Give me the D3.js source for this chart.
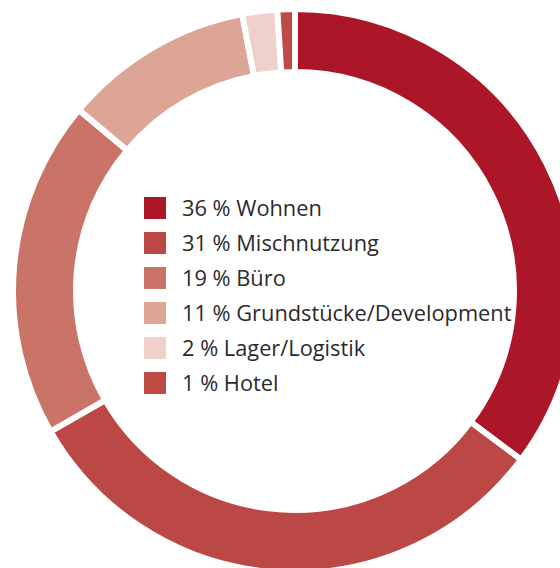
<!DOCTYPE html>
<html>
<head>
<meta charset="utf-8">
<script src="https://cdn.jsdelivr.net/npm/d3@7"></script>
<style>
  body { margin: 0; background: #fff; overflow: hidden; }
  .legend-label { font-family: "Open Sans", sans-serif; font-size: 21.8px; fill: #2b2b2b; }
</style>
</head>
<body>
<div id="chart"></div>
<script>
// Portfolio split by use type
const categories = ['Wohnen', 'Mischnutzung', 'Büro', 'Grundstücke/Development', 'Lager/Logistik', 'Hotel'];
// rounded shares as printed in the legend
const shareLabels = [36, 31, 19, 11, 2, 1];
// slice sizes (unrounded)
const sliceShares = [35.2, 31.5, 19.4, 10.9, 2.0, 1.0];
const colors = ['#ab1628', '#bb4844', '#c97467', '#dca596', '#f0d0cb', '#bd4a45'];

const width = 560, height = 568;
const cx = 295, cy = 291;
// white stroke eats 3px on each edge, so the path is drawn a bit wider
const outerR = 282, innerR = 219;

const svg = d3.select('#chart').append('svg')
    .attr('width', width)
    .attr('height', height);

const data = categories.map((c, i) => ({
    name: c, value: sliceShares[i], label: shareLabels[i], color: colors[i]
}));

const pie = d3.pie().value(d => d.value).sort(null);
const arc = d3.arc().innerRadius(innerR).outerRadius(outerR);

const ring = svg.append('g')
    .attr('transform', `translate(${cx},${cy})`);

ring.selectAll('.slice')
    .data(pie(data))
    .join('path')
    .attr('class', 'slice')
    .attr('d', arc)
    .attr('fill', d => d.data.color)
    .attr('stroke', '#fff')
    .attr('stroke-width', 6);

// legend
const rowStep = 35;
const legend = svg.append('g')
    .attr('transform', 'translate(144,197)');

const rows = legend.selectAll('.legend-row')
    .data(data)
    .join('g')
    .attr('class', 'legend-row')
    .attr('transform', (d, i) => `translate(0,${i * rowStep})`);

rows.append('rect')
    .attr('width', 22)
    .attr('height', 22)
    .attr('fill', d => d.color);

rows.append('text')
    .attr('class', 'legend-label')
    .attr('x', 38)
    .attr('y', 11)
    .attr('dy', '.36em')
    .text(d => `${d.label} % ${d.name}`);
</script>
</body>
</html>
